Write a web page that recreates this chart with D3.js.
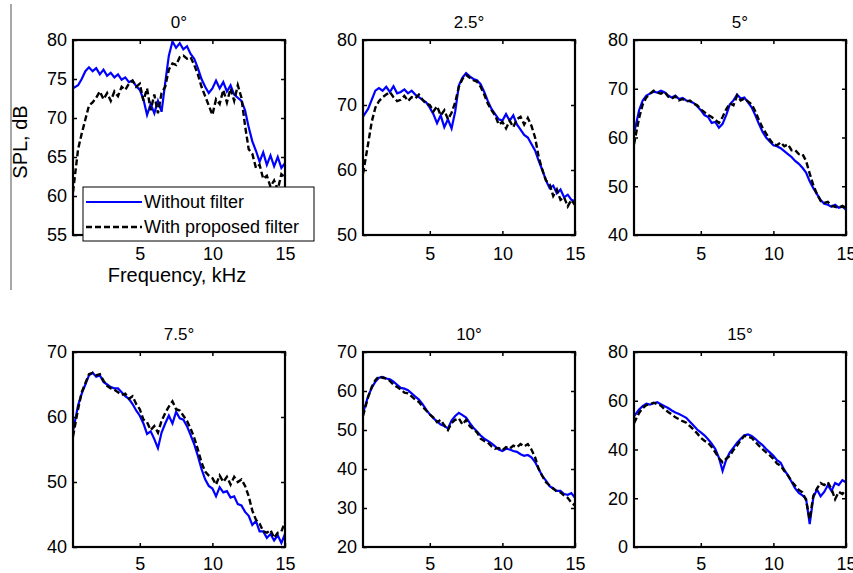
<!DOCTYPE html>
<html>
<head>
<meta charset="utf-8">
<script src="https://cdn.jsdelivr.net/npm/d3@7"></script>
<style>
body { margin: 0; background: #fff; }
svg { font-family: 'Liberation Sans', Arial, sans-serif; }
</style>
</head>
<body>
<svg></svg>
<script>
let width = 853;
let height = 573;

// frequency grid, kHz
let freq = [0.4, 0.75, 1, 1.25, 1.5, 1.75, 2, 2.25, 2.5, 2.75, 3, 3.25, 3.5, 3.75, 4, 4.25, 4.5, 4.75,
    5, 5.25, 5.5, 5.75, 6, 6.25, 6.5, 6.75, 7, 7.25, 7.5, 7.75, 8, 8.25, 8.5, 8.75, 9, 9.25, 9.5, 9.75,
    10, 10.25, 10.5, 10.75, 11, 11.25, 11.5, 11.75, 12, 12.25, 12.5, 12.75, 13, 13.25, 13.5, 13.75,
    14, 14.25, 14.5, 14.75, 15];

let titles = ['0°', '2.5°', '5°', '7.5°', '10°', '15°'];
let yDomains = [[55, 80], [50, 80], [40, 80], [40, 70], [20, 70], [0, 80]];
let yTicks = [[55, 60, 65, 70, 75, 80], [50, 60, 70, 80], [40, 50, 60, 70, 80],
    [40, 50, 60, 70], [20, 30, 40, 50, 60, 70], [0, 20, 40, 60, 80]];
let xTicks = [5, 10, 15];
let seriesNames = ['Without filter', 'With proposed filter'];

// SPL, dB - without filter
let without0 = [73.8, 74.2, 75.0, 76.0, 76.5, 76.0, 76.4, 75.6, 76.2, 75.4, 75.8, 75.2, 75.6, 74.9, 75.2, 74.6, 74.8, 74.1,
    73.6, 72.4, 70.4, 71.8, 70.6, 72.2, 70.8, 74.5, 78.0, 79.8, 79.0, 79.6, 78.8, 79.2, 78.2, 77.6, 76.4, 75.0, 74.0, 73.2,
    73.8, 74.8, 73.8, 74.6, 73.4, 74.2, 73.0, 72.6, 72.2, 71.0, 68.8, 67.0, 65.8, 64.4, 65.6, 64.0,
    65.2, 63.8, 65.0, 63.6, 64.2];
let without25 = [68.2, 69.4, 70.8, 72.2, 72.6, 72.2, 72.8, 72.0, 72.9, 71.8, 72.0, 72.4, 71.8, 72.2, 71.6, 71.2, 70.8, 70.4,
    69.6, 68.6, 67.2, 68.4, 66.6, 67.8, 66.4, 69.0, 73.0, 74.2, 74.9, 74.4, 74.0, 73.8, 73.2, 72.0, 70.6, 69.4, 68.6, 67.8,
    67.6, 68.6, 67.6, 68.4, 67.0, 66.2, 65.4, 65.0, 64.0, 63.0, 61.4, 60.0, 58.4, 57.2, 57.6, 56.4,
    57.0, 55.8, 56.2, 55.4, 55.2];
let without5 = [60.8, 65.6, 67.6, 68.6, 69.0, 69.4, 69.2, 69.6, 69.3, 68.6, 68.2, 68.6, 67.9, 68.1, 67.6, 67.4, 67.1, 66.4,
    65.6, 64.6, 64.2, 63.0, 63.2, 62.0, 62.8, 64.6, 66.8, 67.6, 68.8, 68.0, 68.2, 67.2, 66.2, 64.6, 62.8, 61.2, 60.0, 59.2,
    58.4, 58.2, 57.8, 57.2, 56.6, 56.0, 55.2, 54.6, 53.8, 52.8, 51.0, 49.6, 48.4, 47.2, 46.4, 46.2,
    45.8, 46.2, 45.6, 45.8, 45.2];
let without75 = [57.8, 61.8, 63.6, 65.0, 66.4, 66.8, 66.2, 66.4, 65.4, 65.0, 64.6, 64.4, 64.4, 63.8, 63.2, 62.8, 62.0, 61.0,
    60.2, 59.0, 57.4, 57.8, 56.6, 55.2, 57.6, 59.0, 60.2, 59.0, 60.8, 59.8, 59.6, 58.6, 57.2, 55.8, 54.0, 52.0, 50.4, 49.4,
    49.0, 47.8, 49.2, 48.4, 48.6, 47.6, 47.8, 46.6, 46.4, 45.4, 44.8, 43.4, 44.0, 42.4, 42.4, 41.4,
    42.0, 41.0, 41.8, 40.6, 42.0];
let without10 = [54.4, 58.6, 60.8, 62.4, 63.4, 63.6, 63.2, 63.0, 62.4, 61.6, 60.8, 60.6, 60.2, 59.4, 58.6, 57.8, 56.6, 55.2,
    54.0, 53.0, 52.2, 51.4, 51.0, 50.4, 52.4, 53.6, 54.4, 53.8, 53.2, 51.8, 50.6, 49.6, 48.6, 47.8, 47.2, 46.6, 45.8, 45.0,
    44.6, 45.2, 45.0, 44.6, 44.4, 43.8, 43.4, 43.6, 43.0, 41.8, 40.0, 38.2, 37.0, 35.6, 35.0, 34.4,
    34.4, 33.6, 33.4, 33.8, 32.6];
let without15 = [53.6, 56.4, 57.8, 58.8, 58.4, 59.0, 59.4, 58.6, 57.8, 57.0, 56.0, 55.2, 54.6, 53.8, 53.0, 51.4, 49.8, 48.2,
    47.0, 45.8, 44.2, 42.4, 40.2, 36.6, 31.2, 35.8, 38.8, 40.8, 42.8, 44.4, 45.8, 46.2, 45.6, 44.4, 43.0, 41.8, 40.2, 38.8,
    37.4, 35.6, 34.6, 31.6, 29.4, 26.8, 24.0, 22.2, 21.2, 19.8, 9.4, 20.4, 23.6, 20.8, 22.6, 25.4,
    23.0, 26.2, 25.4, 27.4, 26.6];

// SPL, dB - with proposed filter
let with0 = [60.5, 66.0, 68.0, 69.8, 71.6, 72.0, 72.6, 73.4, 72.4, 73.2, 72.2, 73.4, 72.8, 74.0, 73.6, 74.4, 74.8, 74.0,
    74.4, 72.2, 73.8, 71.0, 73.0, 70.6, 73.2, 74.0, 76.2, 77.0, 76.8, 77.8, 78.0, 77.6, 77.8, 76.8, 75.6, 74.0, 72.8, 71.6,
    70.4, 72.4, 71.8, 73.6, 72.0, 73.8, 72.2, 74.2, 72.6, 69.0, 66.0, 65.4, 63.6, 64.0, 62.2, 62.6,
    61.2, 62.0, 60.8, 62.8, 62.4];
let with25 = [59.4, 64.0, 67.4, 69.6, 70.6, 71.2, 71.6, 72.0, 71.2, 70.6, 70.8, 71.4, 70.6, 71.2, 71.0, 71.6, 70.8, 70.2,
    70.0, 69.0, 69.8, 68.4, 69.2, 67.8, 68.8, 70.4, 72.8, 74.0, 74.6, 74.2, 73.8, 73.6, 72.8, 71.6, 70.2, 69.2, 68.4, 67.0,
    67.4, 66.4, 67.6, 66.6, 67.8, 68.2, 67.0, 68.0, 66.8, 65.0, 62.0, 60.0, 58.4, 57.8, 56.0, 57.0,
    55.4, 55.8, 54.4, 55.4, 54.6];
let with5 = [58.6, 64.0, 66.8, 68.2, 69.0, 69.6, 69.2, 69.0, 69.4, 68.4, 68.0, 68.4, 67.6, 67.9, 67.4, 67.6, 67.0, 66.6,
    65.8, 65.2, 64.6, 64.2, 63.6, 63.0, 64.2, 65.8, 67.0, 66.6, 68.6, 67.6, 68.0, 67.4, 66.8, 65.4, 63.6, 62.0, 60.8, 59.6,
    58.6, 58.4, 59.0, 58.2, 58.6, 57.4, 57.4, 56.6, 56.6, 55.2, 52.6, 50.2, 48.4, 47.0, 46.6, 46.8,
    46.0, 45.8, 45.6, 46.0, 45.6];
let with75 = [57.0, 61.2, 63.8, 65.2, 66.6, 66.8, 66.4, 66.6, 65.6, 64.8, 64.4, 64.2, 63.8, 63.4, 63.6, 62.8, 63.2, 62.0,
    61.2, 59.6, 59.2, 58.0, 58.6, 57.6, 59.4, 60.6, 61.6, 62.4, 61.2, 61.0, 60.2, 59.4, 58.2, 56.8, 55.0, 53.0, 51.6, 51.0,
    50.6, 49.6, 51.0, 50.0, 50.8, 49.6, 50.8, 50.0, 50.4, 49.4, 47.8, 45.6, 44.2, 43.6, 42.4, 42.2,
    42.6, 41.4, 42.2, 42.4, 43.8];
let with10 = [53.6, 58.4, 61.0, 62.8, 63.8, 63.4, 63.2, 62.6, 61.6, 61.0, 60.4, 59.6, 59.4, 58.6, 57.8, 57.2, 56.0, 55.0,
    54.0, 53.2, 52.0, 52.6, 51.2, 50.0, 51.8, 52.6, 53.0, 51.4, 52.6, 51.0, 50.2, 49.4, 47.8, 47.2, 46.8, 45.8, 45.2, 45.4,
    44.8, 45.6, 45.2, 46.0, 45.6, 46.4, 45.8, 46.4, 45.0, 43.0, 40.0, 38.2, 36.6, 35.8, 35.0, 34.2,
    34.0, 33.2, 32.6, 31.4, 30.6];
let with15 = [50.8, 55.0, 57.0, 58.2, 58.6, 59.2, 58.6, 58.0, 56.6, 55.4, 54.4, 53.2, 52.4, 51.6, 51.0, 49.6, 48.2, 46.6,
    44.8, 43.6, 42.8, 41.0, 38.8, 36.4, 34.8, 36.2, 37.4, 39.8, 41.6, 43.8, 45.6, 45.2, 44.8, 43.2, 41.6, 40.2, 38.8, 37.6,
    36.2, 34.2, 33.4, 31.2, 29.4, 27.0, 25.2, 23.4, 22.4, 19.2, 11.4, 21.0, 24.0, 26.2, 25.4, 26.6,
    23.8, 19.6, 22.6, 21.8, 23.6];

let withoutAll = [without0, without25, without5, without75, without10, without15];
let withAll = [with0, with25, with5, with75, with10, with15];

// layout
let cols = [73, 363, 634];
let rows = [40, 352];
let pw = 212;
let ph = 195;

let svg = d3.select('svg')
    .attr('width', width)
    .attr('height', height)

svg.append('rect')
    .attr('width', width)
    .attr('height', height)
    .attr('fill', '#fff')

// gray rule at the far left
svg.append('line')
    .attr('x1', 11).attr('x2', 11)
    .attr('y1', 4).attr('y2', 290)
    .attr('stroke', '#8a8a8a')
    .attr('stroke-width', 1.5)

titles.forEach(function (title, i) {
    let left = cols[i % 3];
    let row = Math.floor(i / 3);
    let top = rows[row];

    let x = d3.scaleLinear().domain([0.4, 15]).range([0, pw]);
    let y = d3.scaleLinear().domain(yDomains[i]).range([ph, 0]);

    let g = svg.append('g')
        .attr('transform', 'translate(' + left + ',' + top + ')');

    g.append('clipPath')
        .attr('id', 'clip' + i)
        .append('rect')
        .attr('width', pw)
        .attr('height', ph)

    let line = d3.line()
        .x(d => x(d[0]))
        .y(d => y(d[1]));

    g.append('path')
        .datum(d3.zip(freq, withoutAll[i]))
        .attr('d', line)
        .attr('clip-path', 'url(#clip' + i + ')')
        .attr('fill', 'none')
        .attr('stroke', '#0000ff')
        .attr('stroke-width', 2.2)

    g.append('path')
        .datum(d3.zip(freq, withAll[i]))
        .attr('d', line)
        .attr('clip-path', 'url(#clip' + i + ')')
        .attr('fill', 'none')
        .attr('stroke', '#000')
        .attr('stroke-width', 2.4)
        .attr('stroke-dasharray', '6,3')

    // axes, ticks inward on all four sides
    g.append('g')
        .call(d3.axisLeft(y).tickValues(yTicks[i]).tickSizeInner(-4).tickSizeOuter(0).tickPadding(6))
    g.append('g')
        .attr('transform', 'translate(' + pw + ',0)')
        .call(d3.axisRight(y).tickValues(yTicks[i]).tickSizeInner(-4).tickSizeOuter(0).tickFormat(''))
    g.append('g')
        .attr('transform', 'translate(0,' + ph + ')')
        .call(d3.axisBottom(x).tickValues(xTicks).tickSizeInner(-4).tickSizeOuter(0).tickPadding(row == 0 ? 12 : 10))
    g.append('g')
        .call(d3.axisTop(x).tickValues(xTicks).tickSizeInner(-4).tickSizeOuter(0).tickFormat(''))

    g.selectAll('.domain').remove();
    g.selectAll('.tick line').attr('stroke', '#000').attr('stroke-width', 1.5);
    g.selectAll('.tick text')
        .attr('fill', '#000')
        .style('font-size', '18px')
        .style('font-family', "'Liberation Sans', Arial, sans-serif")

    g.append('rect')
        .attr('width', pw)
        .attr('height', ph)
        .attr('fill', 'none')
        .attr('stroke', '#000')
        .attr('stroke-width', 2.2)

    g.append('text')
        .attr('x', pw / 2)
        .attr('y', -12)
        .attr('text-anchor', 'middle')
        .style('font-size', '17px')
        .text(title)
});

// axis labels on the first panel
svg.append('text')
    .attr('transform', 'translate(27,142) rotate(-90)')
    .attr('text-anchor', 'middle')
    .style('font-size', '20px')
    .text('SPL, dB')

svg.append('text')
    .attr('x', 177)
    .attr('y', 282)
    .attr('text-anchor', 'middle')
    .style('font-size', '20px')
    .text('Frequency, kHz')

// legend
let legend = svg.append('g')
    .attr('transform', 'translate(83,187)');

legend.append('rect')
    .attr('width', 231)
    .attr('height', 54)
    .attr('fill', '#fff')
    .attr('stroke', '#000')
    .attr('stroke-width', 1)

let legendStyles = [
    {color: '#0000ff', dash: null, w: 2.2},
    {color: '#000', dash: '6,3', w: 2.4}
];

seriesNames.forEach(function (name, i) {
    let ly = 15 + i * 25;
    legend.append('line')
        .attr('x1', 3).attr('x2', 59)
        .attr('y1', ly).attr('y2', ly)
        .attr('stroke', legendStyles[i].color)
        .attr('stroke-width', legendStyles[i].w)
        .attr('stroke-dasharray', legendStyles[i].dash)
    legend.append('text')
        .attr('x', 61)
        .attr('y', ly + 6)
        .style('font-size', '18px')
        .text(name)
});
</script>
</body>
</html>
